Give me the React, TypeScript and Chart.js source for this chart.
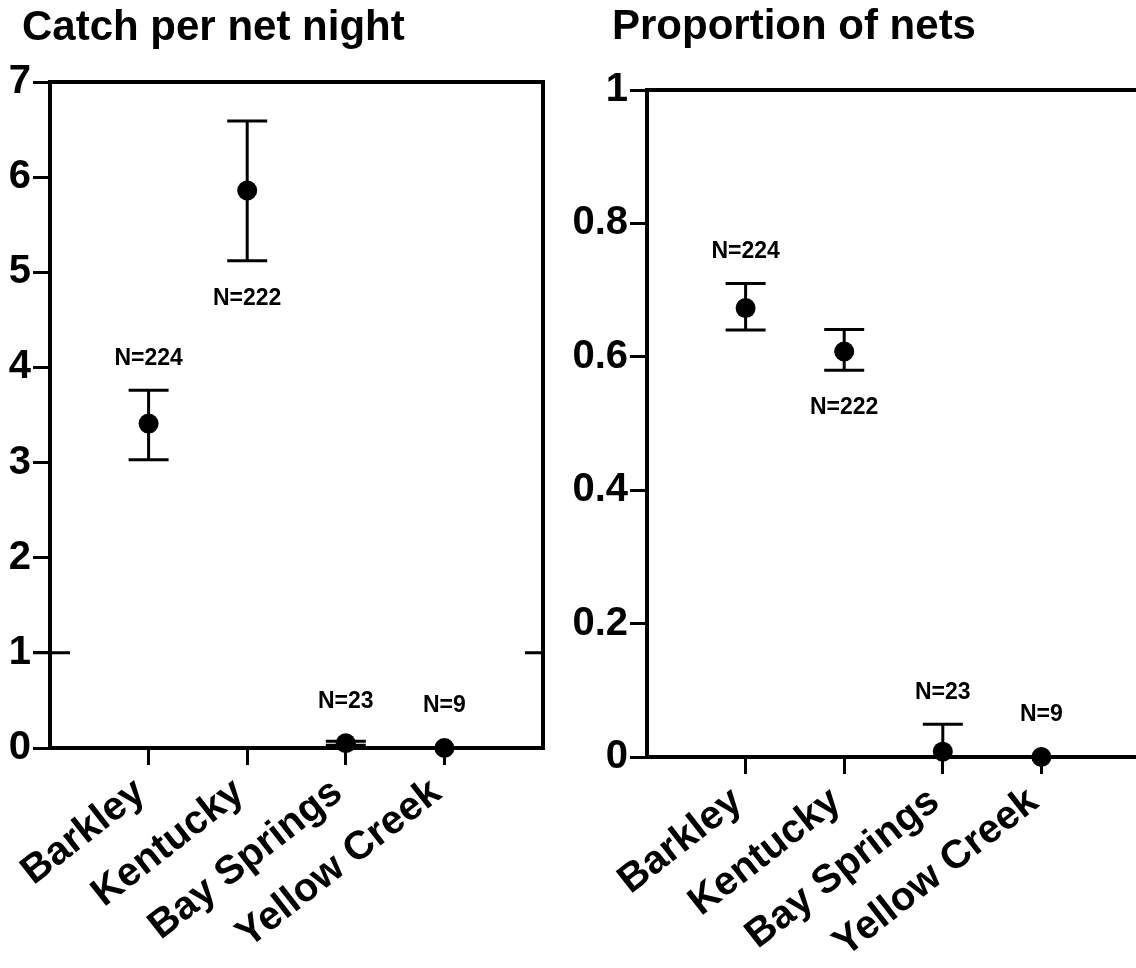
import React, { useEffect, useRef } from 'react';
import { Chart, registerables } from 'chart.js';

Chart.register(...registerables);

// Sites along the x axis and the net counts written above/below each marker
const sites = ['Barkley', 'Kentucky', 'Bay Springs', 'Yellow Creek'];
const sampleSizes = [224, 222, 23, 9];
const labelSide = ['above', 'below', 'above', 'above'];

// Catch per net night: mean with lower / upper error limits
const catchMean = [3.41, 5.86, 0.05, 0.0];
const catchLow = [3.03, 5.12, 0.03, 0.0];
const catchHigh = [3.76, 6.59, 0.07, 0.0];
const catchTicks = [0, 1, 2, 3, 4, 5, 6, 7];
const catchCrossTicks = [1];

// Proportion of nets with a catch: mean with lower / upper error limits
const propMean = [0.673, 0.608, 0.008, 0.0];
const propLow = [0.64, 0.58, 0.0, 0.0];
const propHigh = [0.71, 0.641, 0.049, 0.0];
const propTicks = [0, 0.2, 0.4, 0.6, 0.8, 1];

const FONT = '"Liberation Sans", Arial, Helvetica, sans-serif';
const INK = '#000';

type Area = { left: number; top: number; right: number; bottom: number };

type PanelProps = {
  title: string;
  titleX: number;
  titleY: number;
  x: number;
  width: number;
  height: number;
  area: Area;
  mean: number[];
  low: number[];
  high: number[];
  yTicks: number[];
  crossTicks: number[];
};

function Panel(props: PanelProps) {
  const ref = useRef<HTMLCanvasElement | null>(null);

  useEffect(() => {
    const canvas = ref.current;
    if (!canvas) return;
    const { area, width, height, mean, low, high, yTicks, crossTicks } = props;

    const framePlugin = {
      id: 'frameAndBars',
      beforeDatasetsDraw(chart: any) {
        const { ctx, chartArea } = chart;
        const xs = chart.scales.x;
        const ys = chart.scales.y;
        ctx.save();
        ctx.strokeStyle = INK;
        ctx.lineWidth = 4;
        ctx.lineJoin = 'miter';
        ctx.strokeRect(chartArea.left, chartArea.top, chartArea.right - chartArea.left, chartArea.bottom - chartArea.top);

        // ticks that cross into the plot on both sides
        ctx.lineWidth = 3;
        crossTicks.forEach((v) => {
          const py = ys.getPixelForValue(v);
          ctx.beginPath();
          ctx.moveTo(chartArea.left - 17, py);
          ctx.lineTo(chartArea.left + 20, py);
          ctx.moveTo(chartArea.right - 18, py);
          ctx.lineTo(chartArea.right, py);
          ctx.stroke();
        });

        // error bars with caps
        ctx.lineWidth = 3;
        mean.forEach((_, i) => {
          if (high[i] === low[i]) return;
          const px = xs.getPixelForValue(i + 1);
          const yl = ys.getPixelForValue(low[i]);
          const yh = ys.getPixelForValue(high[i]);
          ctx.beginPath();
          ctx.moveTo(px, yl);
          ctx.lineTo(px, yh);
          ctx.moveTo(px - 20, yl);
          ctx.lineTo(px + 20, yl);
          ctx.moveTo(px - 20, yh);
          ctx.lineTo(px + 20, yh);
          ctx.stroke();
        });
        ctx.restore();
      },
      afterDraw(chart: any) {
        const { ctx } = chart;
        const xs = chart.scales.x;
        const ys = chart.scales.y;
        ctx.save();
        ctx.fillStyle = INK;
        ctx.font = `bold 42px ${FONT}`;
        ctx.textAlign = 'left';
        ctx.textBaseline = 'alphabetic';
        ctx.fillText(props.title, props.titleX, props.titleY);

        ctx.font = `bold 23px ${FONT}`;
        ctx.textAlign = 'center';
        ctx.textBaseline = 'middle';
        const r = 10;
        mean.forEach((m, i) => {
          const px = xs.getPixelForValue(i + 1);
          const pm = ys.getPixelForValue(m);
          const yl = ys.getPixelForValue(low[i]);
          const yh = ys.getPixelForValue(high[i]);
          const py = labelSide[i] === 'below'
            ? Math.max(yl, pm + r) + 38
            : Math.min(yh, pm - r) - 32;
          ctx.fillText(`N=${sampleSizes[i]}`, px, py);
        });
        ctx.restore();
      },
    };

    const fmt = (v: number) => String(Math.round(v * 10) / 10);

    const chart = new Chart(canvas, {
      type: 'scatter',
      data: {
        datasets: [
          {
            data: mean.map((m, i) => ({ x: i + 1, y: m })),
            pointRadius: 10,
            pointHoverRadius: 10,
            pointBackgroundColor: INK,
            pointBorderColor: INK,
            pointBorderWidth: 0,
            showLine: false,
            clip: false as any,
          },
        ],
      },
      options: {
        responsive: false,
        animation: false,
        events: [],
        layout: { padding: { top: area.top, right: width - area.right, left: 0, bottom: 0 } },
        plugins: {
          legend: { display: false },
          tooltip: { enabled: false },
          title: { display: false },
        },
        scales: {
          x: {
            type: 'linear',
            min: 0,
            max: sites.length + 1,
            afterBuildTicks: (s: any) => {
              s.ticks = sites.map((_, i) => ({ value: i + 1 }));
            },
            afterFit: (s: any) => {
              s.height = height - area.bottom;
            },
            ticks: {
              autoSkip: false,
              minRotation: 38,
              maxRotation: 38,
              padding: 4,
              labelOffset: -8,
              color: INK,
              font: { family: FONT, size: 40, weight: 'bold' },
              callback: (v: any) => sites[Math.round(Number(v)) - 1] ?? '',
            },
            grid: { drawOnChartArea: false, drawTicks: true, tickLength: 17, lineWidth: 3, color: INK },
            border: { display: false },
          },
          y: {
            type: 'linear',
            min: yTicks[0],
            max: yTicks[yTicks.length - 1],
            afterBuildTicks: (s: any) => {
              s.ticks = yTicks.map((v) => ({ value: v }));
            },
            afterFit: (s: any) => {
              s.width = area.left;
            },
            ticks: {
              padding: 2,
              color: INK,
              font: { family: FONT, size: 40, weight: 'bold' },
              callback: (v: any) => fmt(Number(v)),
            },
            grid: { drawOnChartArea: false, drawTicks: true, tickLength: 17, lineWidth: 3, color: INK },
            border: { display: false },
          },
        },
      } as any,
      plugins: [framePlugin],
    });

    return () => chart.destroy();
  }, []);

  return (
    <canvas
      ref={ref}
      width={props.width}
      height={props.height}
      style={{ position: 'absolute', left: props.x, top: 0, width: props.width, height: props.height }}
    />
  );
}

export default function App() {
  return (
    <div
      style={{
        position: 'absolute',
        left: 0,
        top: 0,
        width: 1136,
        height: 968,
        overflow: 'hidden',
        background: '#fff',
      }}
    >
      <Panel
        title="Catch per net night"
        titleX={22}
        titleY={40}
        x={0}
        width={560}
        height={968}
        area={{ left: 50, top: 82, right: 543, bottom: 748 }}
        mean={catchMean}
        low={catchLow}
        high={catchHigh}
        yTicks={catchTicks}
        crossTicks={catchCrossTicks}
      />
      <Panel
        title="Proportion of nets"
        titleX={52}
        titleY={39}
        x={560}
        width={600}
        height={968}
        area={{ left: 87, top: 90, right: 580, bottom: 757 }}
        mean={propMean}
        low={propLow}
        high={propHigh}
        yTicks={propTicks}
        crossTicks={[]}
      />
    </div>
  );
}
